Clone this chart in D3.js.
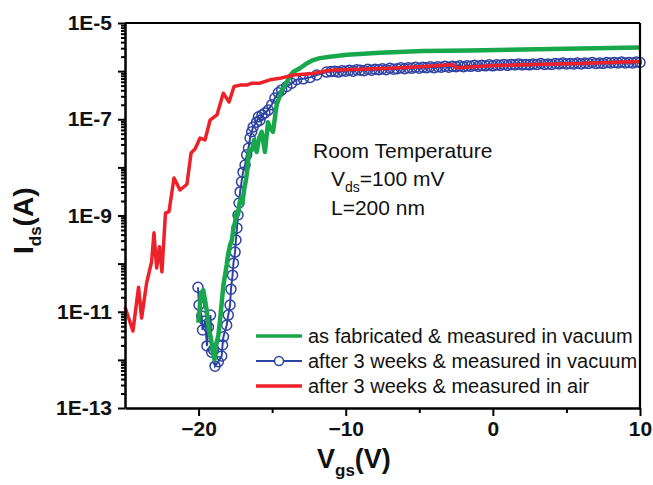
<!DOCTYPE html>
<meta charset="utf-8">
<script src="https://d3js.org/d3.v7.min.js"></script>
<style>
  body { margin: 0; background: #fff; }
  text { font-family: "Liberation Sans", Arial, sans-serif; }
</style>
<div id="chart"></div>
<script>

// ---- data (Vgs in V, log10 of Ids in A) ----
var redV = [-25, -24.46, -24.08, -23.87, -23.53, -23.19, -23.03, -22.85, -22.66, -22.49, -22.25, -22.01,
  -21.67, -21.26, -20.79, -20.51, -20.24, -19.9, -19.56, -19.22, -18.75, -18.32, -17.93, -17.59, -17.18,
  -16.73, -16.37, -15.83, -15.15, -14.47, -13.58, -12.22, -11.07, -9.03, -7.0, -4.95, -2.71, -2.44, -0.19,
  2.05, 5.92, 10];
var redLogI = [-10.90, -11.40, -10.49, -11.13, -10.40, -9.96, -9.36, -10.09, -9.65, -10.17, -8.95, -8.92,
  -8.22, -8.47, -8.35, -7.70, -7.62, -7.39, -7.43, -7.02, -6.91, -6.46, -6.64, -6.32, -6.29,
  -6.29, -6.25, -6.25, -6.18, -6.15, -6.08, -6.05, -5.98, -5.96, -5.94, -5.91, -5.87, -5.93, -5.89,
  -5.87, -5.84, -5.80];

var greenV = [-20.02, -19.84, -19.68, -19.56, -19.43, -19.29, -19.16, -19.02, -18.92, -18.82, -18.66, -18.54,
  -18.41, -18.31, -18.20, -18.09, -18.0, -17.86, -17.73, -17.63, -17.52, -17.41, -17.32, -17.22, -17.12,
  -17.02, -16.91, -16.78, -16.67, -16.57, -16.37, -16.23, -16.05, -15.89, -15.71, -15.49, -15.28, -15.15,
  -14.94, -14.69, -14.47, -14.26, -14.01, -13.79, -13.58, -13.11, -12.65, -12.22, -11.75, -11.07, -9.91,
  -7.67, -4.75, -1.55, 2.05, 5.92, 10];
var greenLogI = [-11.23, -10.65, -10.55, -10.76, -11.01, -11.38, -11.55, -11.84, -12.00, -11.69, -11.50, -11.17,
  -10.76, -10.44, -10.24, -10.03, -9.82, -9.61, -9.51, -9.26, -9.14, -8.93, -8.99, -8.74, -8.64,
  -8.74, -8.47, -8.26, -8.01, -7.64, -7.64, -7.43, -7.68, -7.39, -7.26, -7.68, -7.06, -7.18,
  -7.26, -6.70, -6.50, -6.35, -6.23, -6.10, -6.02, -5.94, -5.84, -5.77, -5.73, -5.70, -5.66,
  -5.62, -5.58, -5.57, -5.55, -5.53, -5.51];

var blueV = [-20.04, -19.97, -19.79, -19.73, -19.56, -19.43, -19.33, -19.19, -19.11, -18.99, -18.88, -18.66,
  -18.43, -18.37, -18.31, -18.09, -17.98, -17.86, -17.80, -17.69, -17.63, -17.52, -17.46, -17.39, -17.32,
  -17.25, -17.18, -17.08, -16.98, -16.84, -16.73, -16.61, -16.50, -16.39, -16.29, -16.06, -15.93, -15.83,
  -15.69, -15.49, -15.26, -15.03, -14.81, -14.58, -14.35, -14.01, -13.67, -13.34, -12.88, -12.43, -11.97,
  -11.30,
  -11.00, -10.75, -10.50, -10.25, -10.00, -9.75, -9.50, -9.25, -9.00, -8.75, -8.50, -8.25, -8.00, -7.75,
  -7.50, -7.25, -7.00, -6.75, -6.50, -6.25, -6.00, -5.75, -5.50, -5.25, -5.00, -4.75, -4.50, -4.25, -4.00,
  -3.75, -3.50, -3.25, -3.00, -2.75, -2.50, -2.25, -2.00, -1.75, -1.50, -1.25, -1.00, -0.75, -0.50, -0.25,
  0.00, 0.25, 0.50, 0.75, 1.00, 1.25, 1.50, 1.75, 2.00, 2.25, 2.50, 2.75, 3.00, 3.25, 3.50, 3.75, 4.00,
  4.25, 4.50, 4.75, 5.00, 5.25, 5.50, 5.75, 6.00, 6.25, 6.50, 6.75, 7.00, 7.25, 7.50, 7.75, 8.00, 8.25,
  8.50, 8.75, 9.00, 9.25, 9.50, 9.75, 10.00];
var blueLogI = [-10.49, -10.86, -11.09, -11.38, -11.19, -11.71, -11.32, -11.07, -11.84, -11.79, -12.13, -12.04,
  -11.92, -11.69, -11.52, -11.28, -11.07, -10.86, -10.53, -10.24, -9.99, -9.76, -9.51, -9.26, -8.99,
  -8.74, -8.51, -8.30, -8.10, -7.95, -7.74, -7.60, -7.39, -7.26, -7.16, -7.06, -6.95, -7.02,
  -6.91, -6.87, -6.81, -6.70, -6.56, -6.45, -6.39, -6.32, -6.25, -6.18, -6.16, -6.13, -6.08,
  -6.02,
  -6.01, -6.00, -6.02, -5.99, -6.00, -5.98, -6.00, -5.97, -5.98, -5.99, -5.96, -5.98, -5.96, -5.97,
  -5.95, -5.97, -5.94, -5.96, -5.95, -5.93, -5.95, -5.93, -5.94, -5.92, -5.94, -5.92, -5.93, -5.91, -5.93,
  -5.91, -5.92, -5.90, -5.92, -5.90, -5.91, -5.89, -5.91, -5.89, -5.90, -5.88, -5.90, -5.88, -5.89, -5.87,
  -5.89, -5.87, -5.88, -5.86, -5.88, -5.86, -5.87, -5.85, -5.87, -5.86, -5.87, -5.85, -5.86, -5.84, -5.86, -5.85, -5.86,
  -5.84, -5.85, -5.83, -5.85, -5.84, -5.85, -5.83, -5.85, -5.83, -5.84, -5.82, -5.84, -5.83, -5.84, -5.82, -5.83, -5.82,
  -5.83, -5.81, -5.83, -5.82, -5.83, -5.81, -5.82];

var seriesNames = ["as fabricated & measured in vacuum",
                   "after 3 weeks & measured in vacuum",
                   "after 3 weeks & measured in air"];
var xMajorTicks = [-20, -10, 0, 10];
var xMinorTicks = [-15, -5, 5];
var yDecades = [1e-13, 1e-12, 1e-11, 1e-10, 1e-9, 1e-8, 1e-7, 1e-6, 1e-5];
var yLabelled = [-13, -11, -9, -7, -5];

var green = "#17a84b", blue = "#2f43a3", red = "#ec2129";

// ---- layout ----
var W = 653, H = 485;
var margin = {top: 23, right: 13, bottom: 77, left: 125},
    width = W - margin.left - margin.right,
    height = H - margin.top - margin.bottom;

var svg = d3.select("#chart").append("svg")
    .attr("width", W).attr("height", H);
var g = svg.append("g")
    .attr("transform", "translate(" + margin.left + "," + margin.top + ")");

var x = d3.scaleLinear().domain([-25, 10]).range([0, width]);
var y = d3.scaleLog().domain([1e-13, 1e-5]).range([height, 0]);

function pts(vs, ls) {
  return vs.map(function(v, i) { return {v: v, i: Math.pow(10, ls[i])}; });
}
var redData = pts(redV, redLogI),
    greenData = pts(greenV, greenLogI),
    blueData = pts(blueV, blueLogI);

var line = d3.line()
  .x(function(d) { return x(d.v); })
  .y(function(d) { return y(d.i); });

// blue: line + open circles
g.append("path").datum(blueData)
  .attr("d", line).attr("fill", "none")
  .attr("stroke", blue).attr("stroke-width", 2);
g.selectAll(".bdot").data(blueData).enter().append("circle")
  .attr("cx", function(d) { return x(d.v); })
  .attr("cy", function(d) { return y(d.i); })
  .attr("r", 5)
  .attr("fill", "none")
  .attr("stroke", blue).attr("stroke-width", 1.5);

g.append("path").datum(greenData)
  .attr("d", line).attr("fill", "none")
  .attr("stroke", green).attr("stroke-width", 4.5)
  .attr("stroke-linejoin", "round");

g.append("path").datum(redData)
  .attr("d", line).attr("fill", "none")
  .attr("stroke", red).attr("stroke-width", 3.5)
  .attr("stroke-linejoin", "round");

// ---- axes ----
var axW = 2.5;
var yMinor = y.ticks().filter(function(d) { return yDecades.indexOf(d) < 0; });

var yMin = g.append("g").call(d3.axisLeft(y).tickValues(yMinor).tickSize(4).tickFormat(""));
var yAx = g.append("g").call(d3.axisLeft(y).tickValues(yDecades).tickSize(7).tickSizeOuter(0).tickPadding(6)
  .tickFormat(function(d) {
    var e = Math.round(Math.log10(d));
    return yLabelled.indexOf(e) >= 0 ? "1E" + e : "";
  }));

var xMin = g.append("g").attr("transform", "translate(0," + height + ")")
  .call(d3.axisBottom(x).tickValues(xMinorTicks).tickSize(5).tickFormat(""));
var xAx = g.append("g").attr("transform", "translate(0," + height + ")")
  .call(d3.axisBottom(x).tickValues(xMajorTicks).tickSize(8).tickSizeOuter(0).tickPadding(5));

[yMin, yAx, xMin, xAx].forEach(function(a) {
  a.selectAll("path").attr("stroke", "#000").attr("stroke-width", axW);
  a.selectAll("line").attr("stroke", "#000").attr("stroke-width", 2);
  a.selectAll("text").attr("fill", "#111")
    .style("font-size", "21px").style("font-weight", "bold");
});
yMin.select(".domain").remove();
xMin.select(".domain").remove();

// frame top / right
g.append("line").attr("x1", 0).attr("x2", width).attr("y1", 0).attr("y2", 0)
  .attr("stroke", "#000").attr("stroke-width", 2.2);
g.append("line").attr("x1", width).attr("x2", width).attr("y1", 0).attr("y2", height)
  .attr("stroke", "#000").attr("stroke-width", 2.2);

// axis titles
var xt = svg.append("text").attr("x", 317).attr("y", 468)
  .style("font-size", "27px").style("font-weight", "bold").attr("fill", "#111");
xt.append("tspan").text("V");
xt.append("tspan").attr("dy", 8).style("font-size", "17px").text("gs");
xt.append("tspan").attr("dy", -8).text("(V)");

var yt = svg.append("text").attr("transform", "translate(33,254) rotate(-90)")
  .style("font-size", "28px").style("font-weight", "bold").attr("fill", "#111");
yt.append("tspan").text("I");
yt.append("tspan").attr("dy", 8).style("font-size", "17px").text("ds");
yt.append("tspan").attr("dy", -8).text("(A)");

// annotation
svg.append("text").attr("x", 313).attr("y", 158)
  .style("font-size", "21px").attr("fill", "#111").text("Room Temperature");
var vt = svg.append("text").attr("x", 331).attr("y", 186)
  .style("font-size", "21px").attr("fill", "#111");
vt.append("tspan").text("V");
vt.append("tspan").attr("dy", 6).style("font-size", "14px").text("ds");
vt.append("tspan").attr("dy", -6).text("=100 mV");
svg.append("text").attr("x", 331).attr("y", 215)
  .style("font-size", "21px").attr("fill", "#111").text("L=200 nm");

// legend
var legColors = [green, blue, red];
var leg = svg.append("g");
seriesNames.forEach(function(name, i) {
  var ly = 336 + i * 25;
  leg.append("line").attr("x1", 256).attr("x2", 302).attr("y1", ly).attr("y2", ly)
    .attr("stroke", legColors[i]).attr("stroke-width", i == 1 ? 2 : 3.5);
  if (i == 1) {
    leg.append("circle").attr("cx", 279).attr("cy", ly).attr("r", 4.5)
      .attr("fill", "#fff").attr("stroke", blue).attr("stroke-width", 1.5);
  }
  leg.append("text").attr("x", 308).attr("y", ly + 7)
    .style("font-size", "20px").attr("fill", "#111").text(name);
});

</script>
